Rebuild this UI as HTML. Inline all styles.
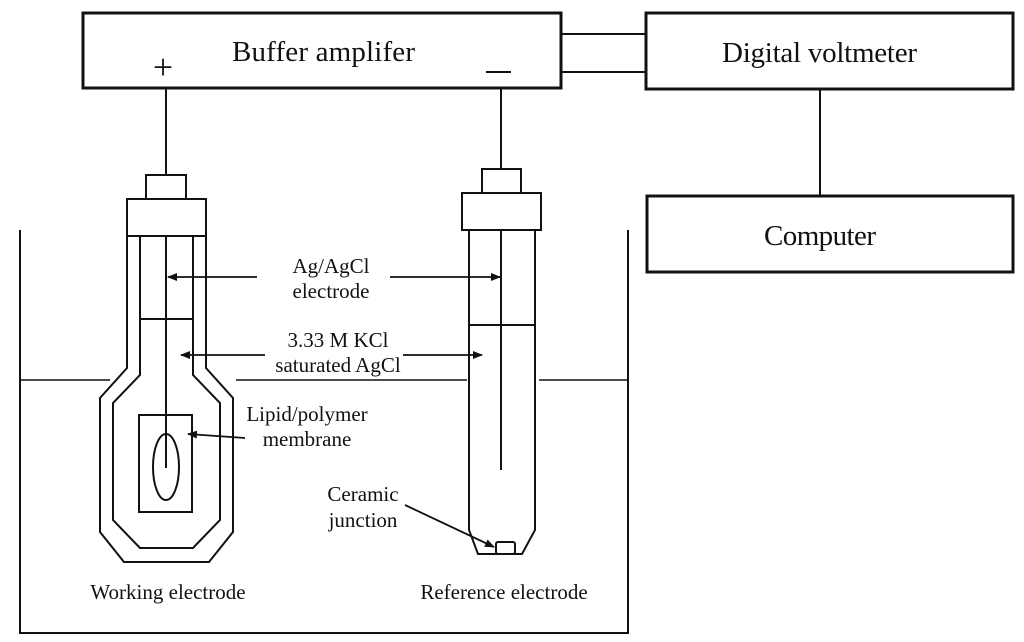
<!DOCTYPE html>
<html><head><style>html,body{margin:0;padding:0;background:#fff;}svg{display:block}</style></head><body>
<svg width="1024" height="642" viewBox="0 0 1024 642" xmlns="http://www.w3.org/2000/svg" font-family="'Liberation Serif', serif" fill="none" stroke="#111">
<defs><marker id="a" markerWidth="10" markerHeight="8" refX="9" refY="4" orient="auto" markerUnits="userSpaceOnUse"><path d="M0,0 L10,4 L0,8 Z" fill="#111" stroke="none"/></marker></defs>
<rect x="83" y="13" width="478" height="75" stroke-width="3"/>
<rect x="646" y="13" width="367" height="76" stroke-width="3"/>
<rect x="647" y="196" width="366" height="76" stroke-width="3"/>
<line x1="561" y1="34" x2="646" y2="34" stroke-width="2"/>
<line x1="561" y1="72" x2="646" y2="72" stroke-width="2"/>
<line x1="820" y1="89" x2="820" y2="196" stroke-width="2"/>
<line x1="166" y1="88" x2="166" y2="175" stroke-width="2"/>
<line x1="501" y1="88" x2="501" y2="169" stroke-width="2"/>
<line x1="486" y1="72" x2="511" y2="72" stroke-width="2"/>
<g fill="#111" stroke="none">
<text x="232" y="61" font-size="29" textLength="183">Buffer amplifer</text>
<text x="163" y="79" font-size="36" text-anchor="middle">+</text>
<text x="722" y="62" font-size="29" textLength="195">Digital voltmeter</text>
<text x="764" y="245" font-size="29" textLength="112">Computer</text>
</g>
<polyline points="20,230 20,633 628,633 628,230" stroke-width="2"/>
<line x1="20" y1="380" x2="110" y2="380" stroke-width="1.5"/>
<line x1="236" y1="380" x2="467" y2="380" stroke-width="1.5"/>
<line x1="539" y1="380" x2="628" y2="380" stroke-width="1.5"/>
<g stroke-width="2" fill="#fff">
<polygon points="127,236 127,368 100,398 100,532 124,562 209,562 233,532 233,398 206,368 206,236"/>
<polygon points="140,236 140,375 113,403 113,520 140,548 193,548 220,520 220,403 193,375 193,236"/>
<rect x="146" y="175" width="40" height="24"/>
<rect x="127" y="199" width="79" height="37"/>
<line x1="140" y1="319" x2="193" y2="319"/>
<rect x="139" y="415" width="53" height="97"/>
<ellipse cx="166" cy="467" rx="13" ry="33"/>
<line x1="166" y1="236" x2="166" y2="468"/>
</g>
<g stroke-width="2" fill="#fff">
<polygon points="469,230 469,530 478,554 522,554 535,530 535,230"/>
<rect x="482" y="169" width="39" height="24"/>
<rect x="462" y="193" width="79" height="37"/>
<line x1="469" y1="325" x2="535" y2="325"/>
<line x1="501" y1="230" x2="501" y2="470"/>
<rect x="496" y="542" width="19" height="12" rx="2"/>
</g>
<g stroke-width="1.8" marker-end="url(#a)">
<line x1="257" y1="277" x2="168" y2="277"/>
<line x1="390" y1="277" x2="500" y2="277"/>
<line x1="265" y1="355" x2="181" y2="355"/>
<line x1="403" y1="355" x2="482" y2="355"/>
<line x1="245" y1="438" x2="188" y2="434"/>
<line x1="405" y1="505" x2="494" y2="547"/>
</g>
<g fill="#111" stroke="none" font-size="21" text-anchor="middle">
<text x="331" y="273">Ag/AgCl</text>
<text x="331" y="298">electrode</text>
<text x="338" y="347">3.33 M KCl</text>
<text x="338" y="372">saturated AgCl</text>
<text x="307" y="421">Lipid/polymer</text>
<text x="307" y="446">membrane</text>
<text x="363" y="501">Ceramic</text>
<text x="363" y="527">junction</text>
<text x="168" y="599">Working electrode</text>
<text x="504" y="599">Reference electrode</text>
</g>
</svg>
</body></html>
